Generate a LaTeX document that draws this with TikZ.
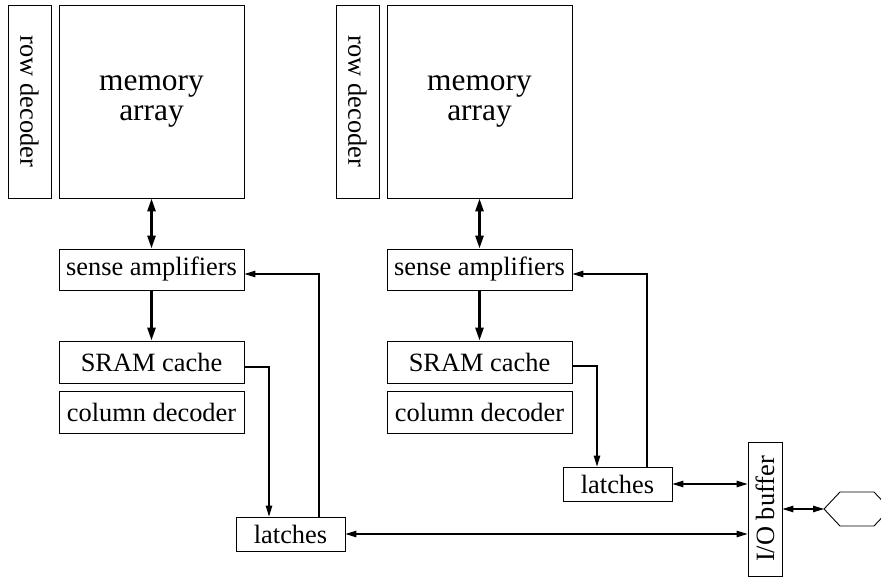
\documentclass[tikz,border=0pt]{standalone}
\usepackage{fontspec}
\usepackage{graphicx}
\setmainfont{Liberation Serif}
\usetikzlibrary{arrows.meta}
\begin{document}
\begin{tikzpicture}[x=1pt,y=-1pt,
  block/.style={draw=black, line width=0.9pt, inner sep=0pt,
    font=\fontsize{26.4}{30}\selectfont},
  wide/.style={block, minimum width=185pt, minimum height=42pt},
  bigtext/.style={font=\fontsize{31.4}{30}\selectfont, align=center},
  bus/.style={line width=2.6pt},
  wire/.style={line width=1.1pt},
  bushead/.tip={Triangle[length=13pt,width=8pt]},
  wirehead/.tip={Triangle[length=11pt,width=6.5pt]}]
\useasboundingbox (0,0) rectangle (881,577);

% left bank
\node[block, minimum width=43pt, minimum height=193pt] (rd1) at (29.5,101.5) {\rotatebox{-90}{row decoder}};
\node[block, bigtext, minimum width=185pt, minimum height=193pt] (ma1) at (151.5,101.5) {memory\\array};
\node[wide, minimum height=41pt] (sa1) at (151.5,269.5) {sense amplifiers};
\node[wide] (sc1) at (151.5,362) {SRAM cache};
\node[wide] (cd1) at (151.5,412) {column decoder};
\node[block, minimum width=109pt, minimum height=34pt] (lat1) at (290.5,534) {latches};

% right bank
\node[block, minimum width=43pt, minimum height=193pt] (rd2) at (357.5,101.5) {\rotatebox{-90}{row decoder}};
\node[block, bigtext, minimum width=185pt, minimum height=193pt] (ma2) at (479.5,101.5) {memory\\array};
\node[wide, minimum height=41pt] (sa2) at (479.5,269.5) {sense amplifiers};
\node[wide] (sc2) at (479.5,362) {SRAM cache};
\node[wide] (cd2) at (479.5,412) {column decoder};
\node[block, minimum width=109pt, minimum height=34pt] (lat2) at (617.5,484) {latches};

% I/O buffer and pin
\node[block, minimum width=34pt, minimum height=134pt] (io) at (765,509) {\rotatebox{90}{I/O buffer}};
\draw[line width=0.9pt] (824,509) coordinate (pin) -- (840,492) -- (874,492) -- (890,509)
  -- (874,526) -- (840,526) -- cycle;

% data buses inside each bank
\draw[bus, bushead-bushead] (ma1.south) -- (sa1.north);
\draw[bus, -bushead] (sa1.south) -- (sc1.north);
\draw[bus, bushead-bushead] (ma2.south) -- (sa2.north);
\draw[bus, -bushead] (sa2.south) -- (sc2.north);

% cache to latches, latches back to sense amplifiers
\draw[wire, -wirehead] ([yshift=-5pt]sc1.east) -| ([xshift=-21.5pt]lat1.north);
\draw[wire, -wirehead] ([xshift=28.5pt]lat1.north) |- ([yshift=-4.5pt]sa1.east);
\draw[wire, -wirehead] ([yshift=-4pt]sc2.east) -| ([xshift=-20.5pt]lat2.north);
\draw[wire, -wirehead] ([xshift=29.5pt]lat2.north) |- ([yshift=-4.5pt]sa2.east);

% latches to I/O buffer, I/O buffer to pin
\draw[wire, wirehead-wirehead] (lat1.east) -- (lat1.east -| io.west);
\draw[wire, wirehead-wirehead] (lat2.east) -- (lat2.east -| io.west);
\draw[wire, wirehead-wirehead] (io.east) -- (pin);
\end{tikzpicture}
\end{document}
